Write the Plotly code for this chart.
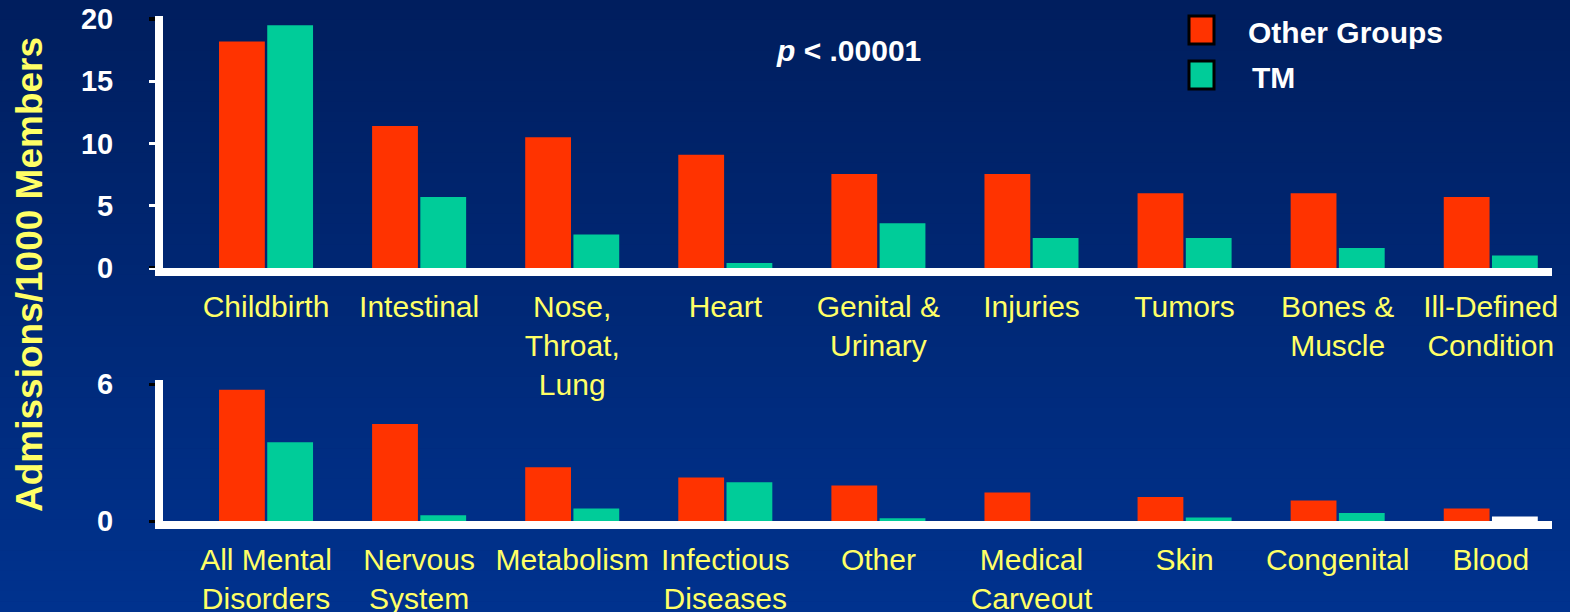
from plotly.subplots import make_subplots
import plotly.graph_objects as go

# top panel
top_cats = ["Childbirth", "Intestinal", "Nose,<br>Throat,<br>Lung", "Heart", "Genital &<br>Urinary",
            "Injuries", "Tumors", "Bones &<br>Muscle", "Ill-Defined<br>Condition"]
top_other = [18.2, 11.4, 10.5, 9.1, 7.55, 7.55, 6.0, 6.0, 5.7]
top_tm = [19.5, 5.7, 2.7, 0.4, 3.6, 2.4, 2.4, 1.6, 1.0]

# bottom panel
bot_cats = ["All Mental<br>Disorders", "Nervous<br>System", "Metabolism", "Infectious<br>Diseases", "Other",
            "Medical<br>Carveout", "Skin", "Congenital", "Blood"]
bot_other = [5.75, 4.25, 2.35, 1.9, 1.55, 1.25, 1.05, 0.9, 0.55]
bot_tm = [3.45, 0.25, 0.55, 1.7, 0.12, 0.0, 0.15, 0.35, 0.2]

RED = "#FF3300"
TEAL = "#00CC99"
YELLOW = "#FFFF66"
FONT = "Liberation Sans, Arial, sans-serif"

fig = make_subplots(rows=2, cols=1)

fig.add_trace(go.Bar(x=top_cats, y=top_other, name="Other Groups", marker_color=RED,
                     marker_line_width=0), row=1, col=1)
fig.add_trace(go.Bar(x=top_cats, y=top_tm, name="TM", marker_color=TEAL,
                     marker_line_width=0), row=1, col=1)
fig.add_trace(go.Bar(x=bot_cats, y=bot_other, name="Other Groups", marker_color=RED,
                     marker_line_width=0), row=2, col=1)
tm_colors = [TEAL] * (len(bot_tm) - 1) + ["white"]
fig.add_trace(go.Bar(x=bot_cats, y=bot_tm, name="TM", marker_color=tm_colors,
                     marker_line_width=0), row=2, col=1)

# gradient background
shapes = []
n = 60
c0 = (0, 30, 94)
c1 = (0, 50, 142)
for i in range(n):
    t = i / (n - 1)
    col = "rgb(%d,%d,%d)" % tuple(round(a + (b - a) * t) for a, b in zip(c0, c1))
    shapes.append(dict(type="rect", xref="paper", yref="paper", x0=0, x1=1,
                       y0=1 - (i + 1) / n, y1=1 - i / n + 0.001,
                       fillcolor=col, line_width=0, layer="below"))

# legend boxes
W, H = 1570, 612
for (y0, y1), col in [((16, 44), RED), ((61, 89), TEAL)]:
    shapes.append(dict(type="rect", xref="paper", yref="paper",
                       x0=1189 / W, x1=1214 / W, y0=1 - y1 / H, y1=1 - y0 / H,
                       fillcolor=col, line=dict(color="black", width=3)))

# black end ticks on the top axis (the middle ones are white)
for yv in (0, 20):
    shapes.append(dict(type="line", xref="paper", yref="y", x0=149 / W, x1=155 / W,
                       y0=yv, y1=yv, line=dict(color="black", width=4)))

annotations = [
    dict(text="<b>Other Groups</b>", x=1246 / W, y=1 - 32 / H, xref="paper", yref="paper",
         xanchor="left", yanchor="middle", showarrow=False,
         font=dict(family=FONT, size=30, color="white")),
    dict(text="<b>TM</b>", x=1250 / W, y=1 - 77 / H, xref="paper", yref="paper",
         xanchor="left", yanchor="middle", showarrow=False,
         font=dict(family=FONT, size=30, color="white")),
    dict(text="<b><i>p</i> < .00001</b>", x=848 / W, y=1 - 50 / H, xref="paper", yref="paper",
         xanchor="center", yanchor="middle", showarrow=False,
         font=dict(family=FONT, size=30, color="white")),
    dict(text="<b>Admissions/1000 Members</b>", x=29 / W, y=1 - 275 / H, xref="paper", yref="paper",
         xanchor="center", yanchor="middle", textangle=-90, showarrow=False,
         font=dict(family=FONT, size=37, color=YELLOW)),
]

fig.update_layout(
    width=W, height=H,
    margin=dict(l=0, r=0, t=0, b=0, autoexpand=False),
    paper_bgcolor="rgb(0,40,118)",
    plot_bgcolor="rgba(0,0,0,0)",
    showlegend=False,
    barmode="group",
    bargap=0.37,
    bargroupgap=0.05,
    shapes=shapes,
    annotations=annotations,
    font=dict(family=FONT),
)

x_common = dict(showgrid=False, zeroline=False, showline=True, linecolor="white", linewidth=8,
                ticks="", ticklabelstandoff=5, range=[-0.673, 8.40], automargin=False,
                tickfont=dict(family=FONT, size=30, color=YELLOW), domain=[163 / W, 1552 / W])
fig.update_xaxes(**x_common, row=1, col=1)
fig.update_xaxes(**x_common, row=2, col=1)

y_common = dict(showgrid=False, zeroline=False, showline=True, linecolor="white", linewidth=8,
                ticks="outside", ticklen=6, tickwidth=3, ticklabelstandoff=30, automargin=False,
                tickfont=dict(family=FONT, size=29, color="white"))
fig.update_yaxes(**y_common, range=[0, 20.24], tickvals=[0, 5, 10, 15, 20],
                 ticktext=["<b>0</b>", "<b>5</b>", "<b>10</b>", "<b>15</b>", "<b>20</b>"],
                 tickcolor="white", domain=[1 - 268 / H, 1 - 16 / H], row=1, col=1)
fig.update_yaxes(**y_common, range=[0, 6.175], tickvals=[0, 6],
                 ticktext=["<b>0</b>", "<b>6</b>"], tickcolor="black",
                 domain=[1 - 521 / H, 1 - 380 / H], row=2, col=1)

fig.write_html("out.html", config={"displayModeBar": False},
               post_script="document.body.style.margin='0';")
